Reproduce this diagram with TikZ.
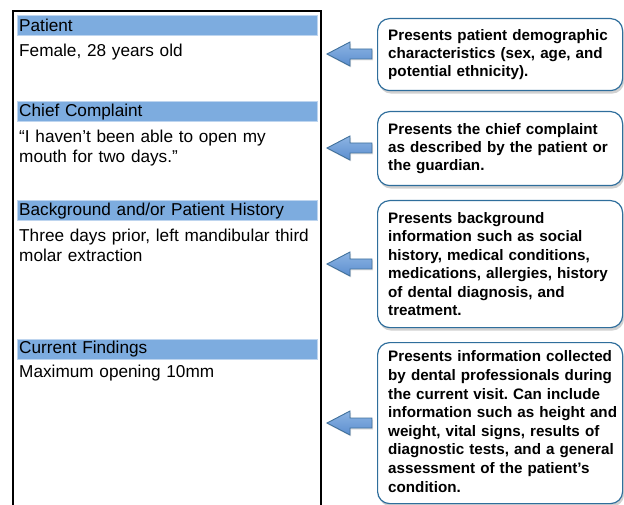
\documentclass[tikz,border=0pt]{standalone}
\usepackage{fontspec}
\setmainfont{Liberation Sans}
\usetikzlibrary{shadows}
\definecolor{hdr}{HTML}{7DACDF}
\definecolor{callborder}{HTML}{2F6E9C}
\definecolor{arrowtop}{HTML}{8DB4E3}
\definecolor{arrowbot}{HTML}{5B8ECF}
\definecolor{arrowline}{HTML}{41719C}
\frenchspacing
\begin{document}
\begin{tikzpicture}[x=1pt,y=-1pt,
  hdrbar/.style={fill=hdr, draw=hdr!50!white, line width=0.4pt, anchor=north west,
    minimum width=300pt, minimum height=20pt, text width=296pt, inner xsep=2pt, inner ysep=0pt,
    align=left, font=\fontsize{17.2}{20}\selectfont},
  bodytext/.style={anchor=north west, text width=304pt, inner sep=0pt, align=left,
    font=\fontsize{17.2}{20}\selectfont},
  callbox/.style={draw=callborder, line width=1.2pt, fill=white, rounded corners=12pt,
    anchor=north west, minimum width=245pt, inner sep=0pt,
    drop shadow={shadow xshift=1.5pt, shadow yshift=-3pt, opacity=0.3, fill=black!60}},
  calltext/.style={anchor=west, text width=245pt, inner sep=0pt, align=left,
    font=\bfseries\fontsize{15.2}{18.4}\selectfont},
  blockarrow/.style={draw=arrowline, line width=0.9pt, top color=arrowtop, bottom color=arrowbot,
    line join=miter, drop shadow={shadow xshift=1pt, shadow yshift=-1.5pt, opacity=0.25}}
]
\useasboundingbox (0,0) rectangle (624,505);

% outer frame (open at bottom)
\draw[line width=1.5pt] (13,505) -- (13,11) -- (321,11) -- (321,505);

% left column
\node[hdrbar] (h1) at (17,15) {Patient};
\node[bodytext] (t1) at (19,44) {Female, 28 years old};

\node[hdrbar] (h2) at (17,101.5) {Chief Complaint};
\node[bodytext] (t2) at (19,130) {“I haven’t been able to open my\\mouth for two days.”};

\node[hdrbar] (h3) at (17,200.5) {Background and/or Patient History};
\node[bodytext] (t3) at (19,229) {Three days prior, left mandibular third\\molar extraction};

\node[hdrbar] (h4) at (17,339) {Current Findings};
\node[bodytext] (t4) at (19,365) {Maximum opening 10mm};

% callouts
\node[callbox, minimum height=72pt] (c1) at (377,18) {};
\node[calltext] (ct1) at ([xshift=11pt]c1.west) {Presents patient demographic\\characteristics (sex, age, and\\potential ethnicity).};

\node[callbox, minimum height=74pt] (c2) at (377,111) {};
\node[calltext] (ct2) at ([xshift=11pt]c2.west) {Presents the chief complaint\\as described by the patient or\\the guardian.};

\node[callbox, minimum height=127pt] (c3) at (377,200) {};
\node[calltext] (ct3) at ([xshift=11pt]c3.west) {Presents background\\information such as social\\history, medical conditions,\\medications, allergies, history\\of dental diagnosis, and\\treatment.};

\node[callbox, minimum height=161pt] (c4) at (377,342) {};
\node[calltext, font=\bfseries\fontsize{15.2}{18.6}\selectfont] (ct4) at ([xshift=11pt,yshift=1.5pt]c4.west) {Presents information collected\\by dental professionals during\\the current visit. Can include\\information such as height and\\weight, vital signs, results of\\diagnostic tests, and a general\\assessment of the patient’s\\condition.};

% block arrows
\foreach \yy in {54,148,264,423}{
  \draw[blockarrow] (327,\yy) -- (350,\yy-12) -- (350,\yy-5) -- (372,\yy-5)
    -- (372,\yy+5) -- (350,\yy+5) -- (350,\yy+12) -- cycle;
}
\end{tikzpicture}
\end{document}
